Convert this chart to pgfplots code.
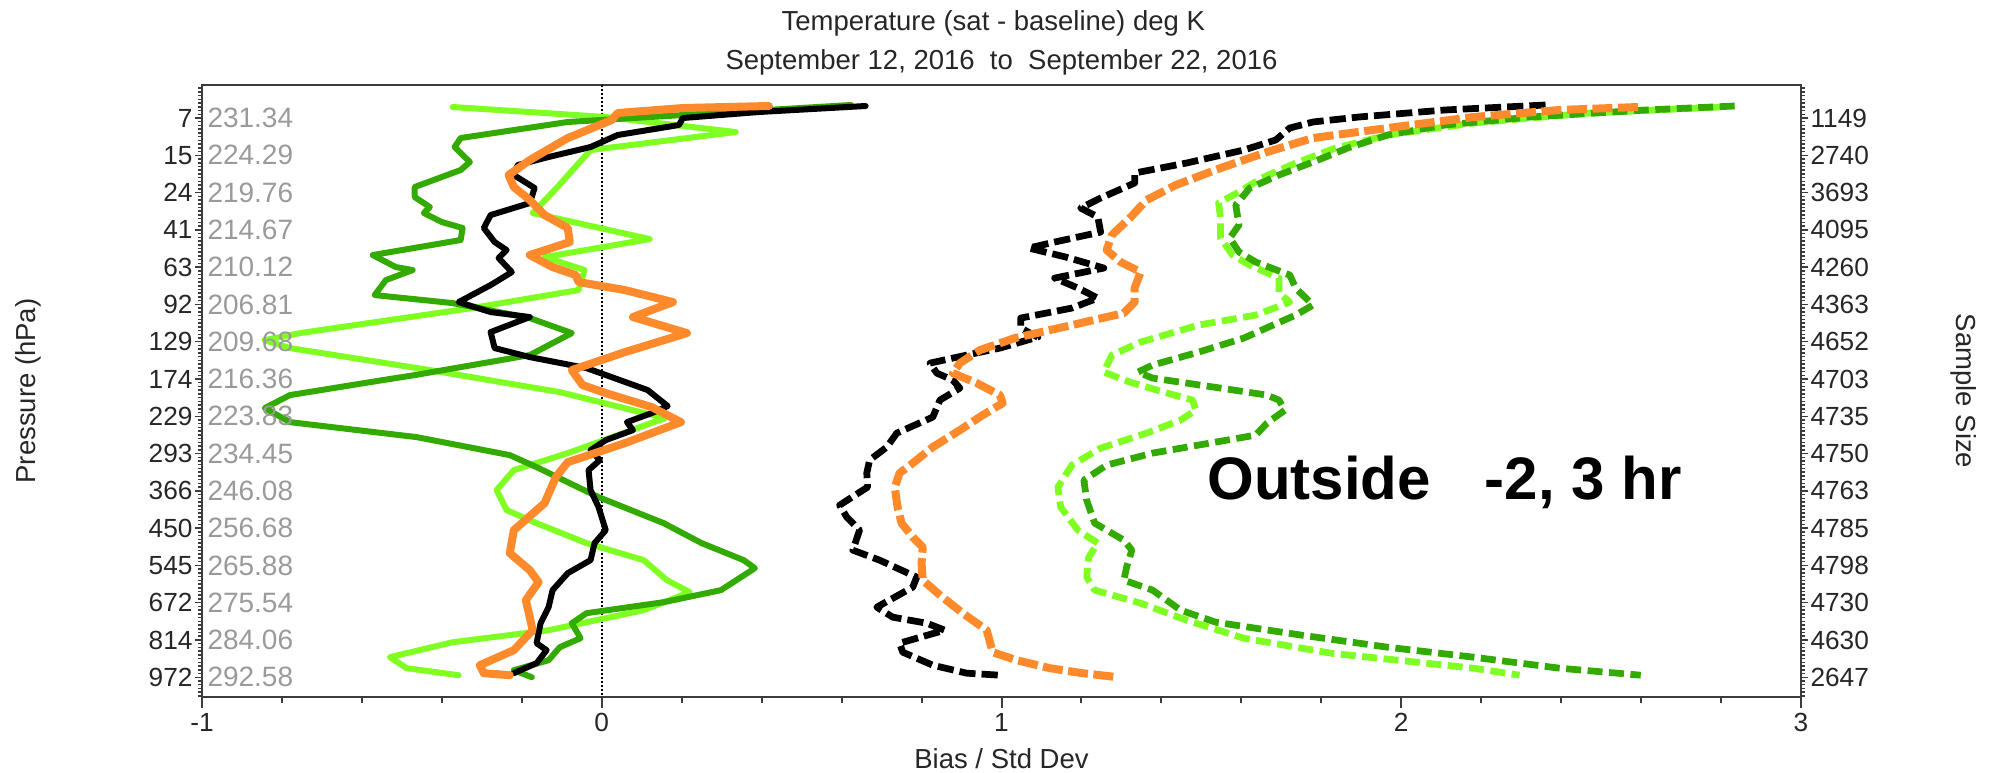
\documentclass[border=0pt]{standalone}
\usepackage{pgfplots}
\pgfplotsset{compat=1.18}
\usepackage{fontspec}
\setmainfont{Liberation Sans}

\definecolor{limegreen}{HTML}{80FF22}
\definecolor{leafgreen}{HTML}{33AA00}
\definecolor{satorange}{HTML}{FF8A2B}
\definecolor{framegray}{HTML}{3C3C3C}
\definecolor{tempgray}{HTML}{9A9A9A}

\pgfplotsset{
  profile/.style={no marks, line join=round},
  bias/.style={profile, line width=2.4pt, line cap=round},
  stdev/.style={profile, line width=2.7pt, line cap=butt},
  frame/.style={
    at={(0pt,0pt)}, anchor=south west, scale only axis,
    width=639.6pt, height=244.8pt,
    xmin=-1, xmax=3, ymin=-0.885, ymax=15.53, y dir=reverse,
    tick align=outside,
    xticklabels={}, yticklabels={},
    axis line style={framegray, line width=1.1pt},
  },
}

\begin{document}
\fontsize{10.5}{12}\selectfont
\begin{tikzpicture}
\path[use as bounding box] (-80.8pt,-30pt) rectangle (716.4pt,278.8pt);

% pressure-level ticks on both sides
\begin{axis}[frame,
  xtick=\empty, ytick={0,...,15},
  minor ytick={-0.8,-0.7,...,15.5},
  ytick pos=both,
  major tick length=2.6pt, minor tick length=1.6pt,
  tick style={framegray, line width=0.6pt},
]
\end{axis}

% profiles
\begin{axis}[frame,
  ytick=\empty,
  xtick={-1,0,1,2,3}, minor x tick num=4,
  xtick pos=bottom,
  major tick length=4.5pt, minor tick length=2.2pt,
  tick style={framegray, line width=0.8pt},
]
\addplot[black, line width=0.6pt, dash pattern=on 0.8pt off 0.8pt]
  coordinates {(0,-0.885) (0,15.53)};

% bias (solid)
\addplot[bias, limegreen] coordinates {
(-0.373,-0.295) (0.010,-0.027) (0.335,0.376) (-0.028,0.859) (-0.120,1.959)
(-0.173,2.549) (0.120,3.247) (-0.143,3.730) (-0.043,4.078) (-0.058,4.615)
(-0.325,5.098) (-0.755,5.769) (-0.843,5.957) (-0.780,6.171) (-0.430,6.761)
(-0.105,7.352) (0.158,8.050) (-0.085,8.988) (-0.220,9.445) (-0.263,9.981)
(-0.238,10.518) (-0.163,10.867) (-0.038,11.403) (0.105,11.859) (0.163,12.396)
(0.220,12.718) (0.105,13.201) (-0.133,13.738) (-0.373,14.060) (-0.530,14.462)
(-0.488,14.757) (-0.358,14.945)};

\addplot[bias, leafgreen] coordinates {
(0.623,-0.349) (0.203,-0.080) (-0.085,0.107) (-0.353,0.537) (-0.368,0.778)
(-0.330,1.181) (-0.353,1.395) (-0.468,1.851) (-0.468,2.120) (-0.430,2.388)
(-0.445,2.549) (-0.400,2.790) (-0.348,2.951) (-0.353,3.273) (-0.573,3.676)
(-0.515,3.998) (-0.473,4.078) (-0.540,4.347) (-0.568,4.749) (-0.373,4.964)
(-0.180,5.366) (-0.075,5.769) (-0.180,6.359) (-0.468,6.896) (-0.548,7.030)
(-0.780,7.432) (-0.843,7.781) (-0.780,8.157) (-0.463,8.559) (-0.230,9.042)
(-0.163,9.364) (-0.008,10.169) (0.155,10.867) (0.250,11.403) (0.355,11.859)
(0.383,12.074) (0.298,12.664) (0.155,12.986) (-0.038,13.281) (-0.075,13.550)
(-0.053,13.952) (-0.105,14.194) (-0.133,14.543) (-0.220,14.811) (-0.175,14.999)};

\addplot[bias, black] coordinates {
(0.660,-0.322) (0.393,-0.161) (0.203,0) (0.193,0.188) (0.040,0.456)
(-0.028,0.778) (-0.133,1.046) (-0.210,1.261) (-0.220,1.529) (-0.168,1.878)
(-0.180,2.281) (-0.278,2.603) (-0.295,2.951) (-0.268,3.327) (-0.238,3.542)
(-0.258,3.756) (-0.225,4.132) (-0.278,4.481) (-0.358,4.937) (-0.278,5.205)
(-0.180,5.339) (-0.278,5.742) (-0.268,6.171) (-0.180,6.413) (-0.038,6.708)
(0.115,7.298) (0.165,7.727) (0.125,7.915) (0.063,8.157) (0.078,8.371)
(0.010,8.640) (-0.028,8.908) (-0.005,9.176) (-0.033,9.445) (-0.028,9.981)
(-0.008,10.437) (0.010,11.055) (-0.018,11.403) (-0.028,11.859) (-0.085,12.208)
(-0.123,12.664) (-0.133,13.120) (-0.153,13.550) (-0.163,14.086) (-0.138,14.274)
(-0.163,14.623) (-0.220,14.891)};

\addplot[bias, satorange, line width=3.2pt] coordinates {
(0.418,-0.322) (0.203,-0.268) (0.040,-0.134) (0.025,0.054) (-0.085,0.537)
(-0.180,1.127) (-0.233,1.529) (-0.220,1.851) (-0.180,2.200) (-0.143,2.603)
(-0.085,2.951) (-0.080,3.327) (-0.180,3.676) (-0.123,3.998) (-0.065,4.212)
(-0.058,4.400) (0.058,4.615) (0.178,4.937) (0.078,5.339) (0.213,5.769)
(0.058,6.279) (-0.075,6.761) (-0.048,7.164) (0.010,7.379) (0.125,7.754)
(0.198,8.157) (0.058,8.720) (-0.085,9.230) (-0.115,9.632) (-0.143,10.330)
(-0.220,11.055) (-0.230,11.672) (-0.180,12.128) (-0.158,12.450) (-0.190,12.933)
(-0.180,13.389) (-0.173,13.738) (-0.220,14.274) (-0.305,14.677) (-0.295,14.891)
(-0.230,14.945)};

% standard deviation (dashed)
\addplot[stdev, limegreen, dash pattern=on 6pt off 2.6pt] coordinates {
(2.797,-0.295) (2.469,-0.134) (2.181,0.134) (1.966,0.456) (1.836,0.805)
(1.736,1.207) (1.651,1.610) (1.594,1.985) (1.543,2.281) (1.548,2.683)
(1.548,3.220) (1.578,3.676) (1.621,3.944) (1.694,4.293) (1.694,4.695)
(1.721,4.937) (1.636,5.286) (1.493,5.554) (1.348,6.010) (1.276,6.359)
(1.256,6.815) (1.321,7.083) (1.406,7.352) (1.478,7.566) (1.486,7.835)
(1.448,8.103) (1.363,8.452) (1.248,8.854) (1.176,9.310) (1.141,9.901)
(1.148,10.437) (1.191,11.055) (1.241,11.403) (1.218,11.779) (1.213,12.315)
(1.233,12.664) (1.348,13.013) (1.463,13.469) (1.606,13.952) (1.824,14.355)
(2.039,14.596) (2.181,14.757) (2.296,14.945)};

\addplot[stdev, leafgreen, dash pattern=on 6pt off 2.6pt] coordinates {
(2.834,-0.322) (2.612,-0.215) (2.324,-0.027) (2.109,0.188) (1.966,0.456)
(1.866,0.805) (1.779,1.181) (1.694,1.529) (1.621,1.878) (1.586,2.334)
(1.594,2.871) (1.571,3.220) (1.594,3.595) (1.636,3.864) (1.721,4.212)
(1.736,4.561) (1.779,5.017) (1.736,5.286) (1.696,5.474) (1.606,5.903)
(1.493,6.279) (1.378,6.627) (1.341,6.815) (1.378,6.976) (1.548,7.244)
(1.664,7.432) (1.694,7.566) (1.709,7.835) (1.664,8.184) (1.636,8.505)
(1.521,8.720) (1.378,8.988) (1.263,9.310) (1.206,9.713) (1.213,10.249)
(1.233,10.867) (1.306,11.323) (1.326,11.591) (1.313,12.047) (1.306,12.396)
(1.378,12.664) (1.448,13.201) (1.536,13.523) (1.751,13.872) (1.966,14.194)
(2.181,14.462) (2.396,14.757) (2.599,14.945)};

\addplot[stdev, black, dash pattern=on 6.5pt off 2.4pt] coordinates {
(2.361,-0.349) (2.109,-0.215) (1.894,-0.027) (1.779,0.107) (1.721,0.268)
(1.686,0.590) (1.606,0.859) (1.463,1.207) (1.333,1.476) (1.333,1.744)
(1.248,2.146) (1.198,2.415) (1.241,2.656) (1.248,3.059) (1.133,3.327)
(1.068,3.488) (1.161,3.730) (1.256,4.025) (1.133,4.293) (1.191,4.561)
(1.241,4.830) (1.176,5.098) (1.048,5.366) (1.048,5.635) (1.091,5.876)
(0.996,6.171) (0.913,6.359) (0.821,6.574) (0.838,6.842) (0.878,7.030)
(0.896,7.244) (0.846,7.566) (0.828,8.023) (0.738,8.452) (0.713,8.827)
(0.670,9.176) (0.663,9.525) (0.665,9.901) (0.595,10.384) (0.613,10.706)
(0.645,11.055) (0.628,11.591) (0.695,11.859) (0.788,12.315) (0.778,12.584)
(0.688,13.120) (0.728,13.389) (0.813,13.550) (0.858,13.738) (0.745,14.086)
(0.753,14.328) (0.828,14.677) (0.913,14.891) (0.996,14.945)};

\addplot[stdev, satorange, line width=3.2pt, dash pattern=on 8pt off 2.2pt] coordinates {
(2.592,-0.295) (2.396,-0.215) (2.181,-0.027) (1.966,0.268) (1.779,0.537)
(1.664,0.912) (1.548,1.342) (1.436,1.798) (1.363,2.200) (1.321,2.683)
(1.276,3.139) (1.263,3.542) (1.298,3.864) (1.348,4.132) (1.333,4.561)
(1.333,4.937) (1.306,5.232) (1.176,5.554) (1.033,5.903) (0.946,6.225)
(0.896,6.574) (0.878,6.842) (0.938,7.110) (0.996,7.432) (1.003,7.647)
(0.953,7.969) (0.896,8.371) (0.828,8.827) (0.778,9.257) (0.745,9.525)
(0.733,9.901) (0.740,10.437) (0.750,10.867) (0.778,11.242) (0.803,11.511)
(0.800,11.940) (0.803,12.396) (0.846,12.798) (0.903,13.281) (0.963,13.738)
(0.978,14.328) (1.038,14.543) (1.121,14.757) (1.203,14.891) (1.291,14.999)};

\node[anchor=base, font=\fontsize{24}{28}\selectfont\bfseries]
  at (axis cs:2.108,10.22) {Outside\hspace{0.9em}-2, 3 hr};
\end{axis}

% level labels: pressure, mean temperature, sample size
\foreach \p/\t/\n [count=\i from 0] in {
  7/231.34/1149, 15/224.29/2740, 24/219.76/3693, 41/214.67/4095,
  63/210.12/4260, 92/206.81/4363, 129/209.68/4652, 174/216.36/4703,
  229/223.83/4735, 293/234.45/4750, 366/246.08/4763, 450/256.68/4785,
  545/265.88/4798, 672/275.54/4730, 814/284.06/4630, 972/292.58/2647} {
  \pgfmathsetmacro\yy{231.6-14.913*\i}
  \node[anchor=east, inner sep=0pt, text=black!85] at (-3.6pt,\yy pt) {\p};
  \node[anchor=west, inner sep=0pt, text=tempgray, font=\fontsize{11.2}{12}\selectfont] at (2pt,\yy pt) {\t};
  \node[anchor=west, inner sep=0pt, text=black!85] at (643.2pt,\yy pt) {\n};
}

% x tick labels
\foreach \v [count=\i from 0] in {-1,0,1,2,3} {
  \pgfmathsetmacro\xx{159.9*\i}
  \node[anchor=base, inner sep=0pt, text=black!85] at (\xx pt,-13.6pt) {\v};
}

% titles and axis labels
\node[anchor=base, inner sep=0pt, font=\fontsize{11}{13}\selectfont, text=black!85]
  at (316.5pt,266.6pt) {Temperature (sat - baseline) deg K};
\node[anchor=base, inner sep=0pt, font=\fontsize{11}{13}\selectfont, text=black!85]
  at (319.8pt,251pt) {September 12, 2016\ \ to\ \ September 22, 2016};
\node[anchor=base, inner sep=0pt, font=\fontsize{11}{13}\selectfont, text=black!85]
  at (319.8pt,-28.4pt) {Bias / Std Dev};
\node[rotate=90, inner sep=0pt, font=\fontsize{11}{13}\selectfont, text=black!85]
  at (-69.6pt,122.4pt) {Pressure (hPa)};
\node[rotate=-90, inner sep=0pt, font=\fontsize{11}{13}\selectfont, text=black!85]
  at (704.8pt,122.4pt) {Sample Size};
\end{tikzpicture}
\end{document}
